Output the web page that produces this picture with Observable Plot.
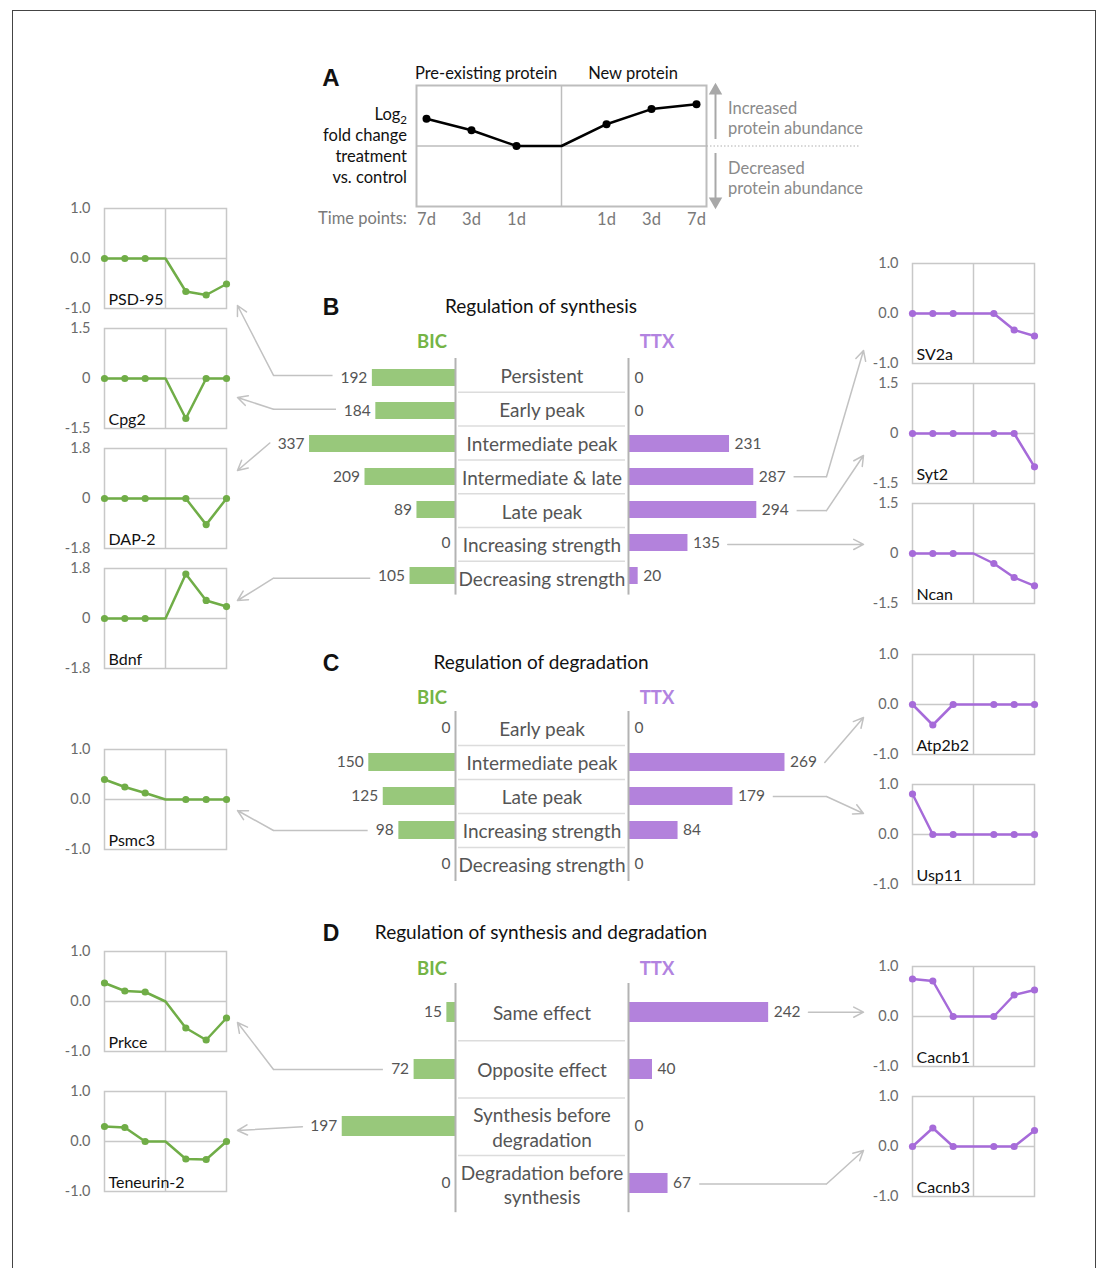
<!DOCTYPE html>
<html><head><meta charset="utf-8">
<script src="https://cdn.jsdelivr.net/npm/d3@7"></script>
<script src="https://cdn.jsdelivr.net/npm/@observablehq/plot@0.6"></script>
<style>
body{margin:0;background:#fff;font-family:Lato,"Open Sans",sans-serif;}
#fig{position:relative;width:1099px;height:1268px;overflow:hidden;background:#fff;}
#fig .abs{position:absolute;}
sub{font-size:0.7em;vertical-align:-0.3em;line-height:0;}
</style></head>
<body><div id="fig"></div>
<script>
// ---------------- DATA ----------------
const timeLabels = ["7d","3d","1d","1d","3d","7d"];
const timeIndex = [0,1,2,4,5,6];            // index 3 = junction pre-existing / new
const schematicValues = [0.45,0.26,0,0,0.36,0.61,0.69];

const geneNames  = ["PSD-95","Cpg2","DAP-2","Bdnf","Psmc3","Prkce","Teneurin-2",
                    "SV2a","Syt2","Ncan","Atp2b2","Usp11","Cacnb1","Cacnb3"];
const geneGroup  = ["BIC","BIC","BIC","BIC","BIC","BIC","BIC",
                    "TTX","TTX","TTX","TTX","TTX","TTX","TTX"];
const geneLimit  = [1.0,1.5,1.8,1.8,1.0,1.0,1.0, 1.0,1.5,1.5,1.0,1.0,1.0,1.0];
const geneValues = [
  [0,0,0,0,-0.66,-0.73,-0.51],
  [0,0,0,0,-1.2,0,0],
  [0,0,0,0,0,-0.94,0],
  [0,0,0,0,1.6,0.65,0.43],
  [0.4,0.25,0.13,0,0,0,0],
  [0.37,0.21,0.19,0,-0.53,-0.77,-0.33],
  [0.3,0.28,0,0,-0.35,-0.36,0],
  [0,0,0,0,0,-0.33,-0.45],
  [0,0,0,0,0,0,-1.0],
  [0,0,0,0,-0.3,-0.72,-0.97],
  [0,-0.41,0,0,0,0,0],
  [0.81,0,0,0,0,0,0],
  [0.75,0.71,0,0,0,0.43,0.53],
  [0,0.37,0,0,0,0,0.32]
];

const synthCategories = ["Persistent","Early peak","Intermediate peak","Intermediate & late","Late peak","Increasing strength","Decreasing strength"];
const synthBIC = [192,184,337,209,89,0,105];
const synthTTX = [0,0,231,287,294,135,20];

const degCategories = ["Early peak","Intermediate peak","Late peak","Increasing strength","Decreasing strength"];
const degBIC = [0,150,125,98,0];
const degTTX = [0,269,179,84,0];

const bothCategories = ["Same effect","Opposite effect","Synthesis before\ndegradation","Degradation before\nsynthesis"];
const bothBIC = [15,72,197,0];
const bothTTX = [242,40,0,67];

// ---------------- STYLE / LAYOUT ----------------
const greenLine = "#70ad47", purpleLine = "#a66bd9";
const greenBar = "#98c87b", purpleBar = "#b382dc";
const greenText = "#74b446", purpleText = "#b283e0";
const gridGray = "#c8c8c8", arrowGray = "#c2c2c2", valueGray = "#555";
const FONT = "Lato, 'Open Sans', sans-serif";
const SMALL = 16.5, VALUE = 15.5, CAT = 19, TITLE = 19;

const fig = document.getElementById("fig");
function place(node, left, top){ node.classList.add("abs"); node.style.position="absolute"; node.style.left=left+"px"; node.style.top=top+"px"; fig.appendChild(node); return node; }
function label(html, x, y, o={}){
  const d=document.createElement("div");
  d.innerHTML=html;
  const tx = o.anchor==="start"?"0":o.anchor==="end"?"-100%":"-50%";
  d.style.cssText=`position:absolute;left:${x}px;top:${y}px;transform:translate(${tx},-50%);font-size:${o.size||SMALL}px;color:${o.color||"#111"};font-weight:${o.weight||"normal"};white-space:nowrap;line-height:1.2;font-family:${o.family||FONT};`;
  fig.appendChild(d);
}

// frame around the figure
const border=document.createElement("div");
border.style.cssText="position:absolute;left:12px;top:10px;width:1084px;height:1300px;border:1px solid #444;box-sizing:border-box;";
fig.appendChild(border);

// ---------------- PANEL A ----------------
const aBox = {left:416, right:706, top:85, bottom:206};
const aStep = 45, aPad = 10;
const aPts = schematicValues.map((v,i)=>({t:i, v}));
const aPlot = Plot.plot({
  width: (aBox.right-aBox.left)+24, height: (aBox.bottom-aBox.top)+40,
  marginLeft:12, marginRight:12, marginTop:10, marginBottom:30,
  style:{background:"none", overflow:"visible", fontFamily:FONT},
  x:{domain:[-aPad/aStep, 6+aPad/aStep], axis:null},
  y:{domain:[-1,1], axis:null},
  marks:[
    Plot.frame({stroke:"#bdbdbd", strokeWidth:2}),
    Plot.ruleX([3],{stroke:"#bdbdbd", strokeWidth:1.5}),
    Plot.ruleY([0],{stroke:"#bdbdbd", strokeWidth:1.5}),
    Plot.axisX({ticks:timeIndex, tickFormat:d=>timeLabels[timeIndex.indexOf(d)], tickSize:0, tickPadding:7, fontSize:SMALL, color:"#7a7a7a", label:null}),
    Plot.line(aPts,{x:"t", y:"v", stroke:"#000", strokeWidth:2.5}),
    Plot.dot(aPts.filter(d=>d.t!==3),{x:"t", y:"v", r:4, fill:"#000"})
  ]
});
place(aPlot, aBox.left-12, aBox.top-10);

label("A", 331, 78, {size:24, weight:"bold", family:"'Liberation Sans', Arial, sans-serif"});
label("Pre-existing protein", 486, 74);
label("New protein", 633, 74);
label("Log<sub>2</sub>", 407, 115, {anchor:"end"});
label("fold change", 407, 136, {anchor:"end"});
label("treatment", 407, 157, {anchor:"end"});
label("vs. control", 407, 178, {anchor:"end"});
label("Time points:", 407, 219, {anchor:"end", color:"#7a7a7a"});
label("Increased", 728, 109, {anchor:"start", color:"#8a8a8a"});
label("protein abundance", 728, 129, {anchor:"start", color:"#8a8a8a"});
label("Decreased", 728, 169, {anchor:"start", color:"#8a8a8a"});
label("protein abundance", 728, 189, {anchor:"start", color:"#8a8a8a"});

// ---------------- MINI CHARTS ----------------
const leftBoxX = 104, rightBoxX = 912, boxW = 122, boxH = 100;
const geneBoxTop = [208,328,448,568,749,951,1091, 263,383,503,654,784,966,1096];
function geneBox(i){ return {x: geneGroup[i]==="BIC"?leftBoxX:rightBoxX, y: geneBoxTop[i]}; }

geneNames.forEach((name,i)=>{
  const lim = geneLimit[i];
  const color = geneGroup[i]==="BIC" ? greenLine : purpleLine;
  const pts = geneValues[i].map((v,j)=>({t:j, v}));
  const fmt = d => d===0 ? (lim===1?"0.0":"0") : d.toFixed(1);
  const p = Plot.plot({
    width: boxW+58, height: boxH+20, marginLeft:50, marginRight:8, marginTop:10, marginBottom:10,
    style:{background:"none", overflow:"visible", fontFamily:FONT},
    x:{domain:[0,6], axis:null},
    y:{domain:[-lim,lim], axis:null},
    marks:[
      Plot.frame({stroke:gridGray, strokeWidth:1.5}),
      Plot.ruleX([3],{stroke:gridGray, strokeWidth:1.5}),
      Plot.ruleY([0],{stroke:gridGray, strokeWidth:1.5}),
      Plot.axisY({ticks:[-lim,0,lim], tickFormat:fmt, tickSize:0, tickPadding:14, fontSize:14.5, color:"#6a6a6a", label:null}),
      Plot.line(pts,{x:"t", y:"v", stroke:color, strokeWidth:2.5}),
      Plot.dot(pts.filter(d=>d.t!==3),{x:"t", y:"v", r:3.6, fill:color}),
      Plot.text([name],{text:d=>d, frameAnchor:"bottom-left", textAnchor:"start", lineAnchor:"bottom", dx:4, dy:-4, fontSize:16, fill:"#111"})
    ]
  });
  const b = geneBox(i);
  place(p, b.x-50, b.y-10);
});

// ---------------- BAR PANELS ----------------
const colLeft = 455, colRight = 628;
const panels = [
  {id:"B", title:"Regulation of synthesis", titleY:306, headerY:341, cats:synthCategories, bic:synthBIC, ttx:synthTTX, top:358, rowH:33.8, k:0.433, pad:0.47},
  {id:"C", title:"Regulation of degradation", titleY:662, headerY:697, cats:degCategories, bic:degBIC, ttx:degTTX, top:711, rowH:34, k:0.578, pad:0.47},
  {id:"D", title:"Regulation of synthesis and degradation", titleY:932, headerY:968, cats:bothCategories, bic:bothBIC, ttx:bothTTX, top:983, rowH:57.3, k:0.575, pad:0.65}
];

panels.forEach(P=>{
  const n = P.cats.length, H = n*P.rowH;
  const bicData = P.cats.map((c,i)=>({c, v:P.bic[i]}));
  const ttxData = P.cats.map((c,i)=>({c, v:P.ttx[i]}));
  const yBand = {domain:P.cats, paddingInner:P.pad, paddingOuter:P.pad/2, axis:null};
  const leftW = 215, rightW = 240;
  const leftPlot = Plot.plot({
    width:leftW, height:H, margin:0,
    style:{background:"none", overflow:"visible", fontFamily:FONT},
    x:{domain:[0, leftW/P.k], reverse:true, axis:null},
    y:yBand,
    marks:[
      Plot.barX(bicData,{x:"v", y:"c", fill:greenBar}),
      Plot.text(bicData,{x:"v", y:"c", text:d=>String(d.v), textAnchor:"end", dx:-5, fontSize:VALUE, fill:valueGray})
    ]
  });
  place(leftPlot, colLeft-leftW, P.top);
  const rightPlot = Plot.plot({
    width:rightW, height:H, margin:0, marginLeft:1,
    style:{background:"none", overflow:"visible", fontFamily:FONT},
    x:{domain:[0, (rightW-1)/P.k], axis:null},
    y:yBand,
    marks:[
      Plot.barX(ttxData,{x:"v", y:"c", fill:purpleBar}),
      Plot.text(ttxData,{x:"v", y:"c", text:d=>String(d.v), textAnchor:"start", dx:5, fontSize:VALUE, fill:valueGray})
    ]
  });
  place(rightPlot, colRight, P.top);
  const catData = P.cats.map((c,i)=>({c, i}));
  const centerPlot = Plot.plot({
    width:(colRight-colLeft)+4, height:H, marginLeft:2, marginRight:2, marginTop:0, marginBottom:0,
    style:{background:"none", overflow:"visible", fontFamily:FONT},
    x:{domain:[0,1], axis:null},
    y:{domain:[0,n], reverse:true, axis:null},
    marks:[
      Plot.ruleY(d3.range(1,n),{y:d=>d, x1:0, x2:1, stroke:"#dcdcdc", strokeWidth:1.5, insetLeft:3, insetRight:3}),
      Plot.ruleX([0,1],{stroke:"#b3b3b3", strokeWidth:2}),
      Plot.text(catData,{x:0.5, y:d=>d.i+0.5, text:"c", fontSize:CAT, fill:"#555", lineHeight:1.3})
    ]
  });
  place(centerPlot, colLeft-2, P.top);
  label(P.id, 331, P.titleY+2, {size:23, weight:"bold", family:"'Liberation Sans', Arial, sans-serif"});
  label(P.title, 541, P.titleY, {size:TITLE});
  label("BIC", 432, P.headerY, {size:18.5, weight:"bold", color:greenText});
  label("TTX", 657, P.headerY, {size:18.5, weight:"bold", color:purpleText});
});

// ---------------- CONNECTOR ARROWS (annotations) ----------------
const arrowLinks = [
  {panel:"B", side:"BIC", row:0, gene:"PSD-95", frac:0.97, elbow:true},
  {panel:"B", side:"BIC", row:1, gene:"Cpg2", frac:0.69, elbow:true},
  {panel:"B", side:"BIC", row:2, gene:"DAP-2", frac:0.22, elbow:false},
  {panel:"B", side:"BIC", row:6, gene:"Bdnf", frac:0.32, elbow:true},
  {panel:"B", side:"TTX", row:3, gene:"SV2a", frac:0.87, elbow:true},
  {panel:"B", side:"TTX", row:4, gene:"Syt2", frac:0.72, elbow:true},
  {panel:"B", side:"TTX", row:5, gene:"Ncan", frac:null, elbow:false},
  {panel:"C", side:"BIC", row:3, gene:"Psmc3", frac:0.61, elbow:true},
  {panel:"C", side:"TTX", row:1, gene:"Atp2b2", frac:0.63, elbow:false},
  {panel:"C", side:"TTX", row:2, gene:"Usp11", frac:0.29, elbow:true},
  {panel:"D", side:"TTX", row:0, gene:"Cacnb1", frac:null, elbow:false},
  {panel:"D", side:"BIC", row:1, gene:"Prkce", frac:0.71, elbow:true},
  {panel:"D", side:"BIC", row:2, gene:"Teneurin-2", frac:0.39, elbow:false},
  {panel:"D", side:"TTX", row:3, gene:"Cacnb3", frac:0.54, elbow:true}
];
const elbowLeft = 273, elbowRight = 826, digitW = 8.6;
const segs = [], heads = [];
arrowLinks.forEach(a=>{
  const P = panels.find(p=>p.id===a.panel);
  const gi = geneNames.indexOf(a.gene);
  const b = geneBox(gi);
  const y = P.top + (a.row+0.5)*P.rowH;
  const v = a.side==="BIC" ? P.bic[a.row] : P.ttx[a.row];
  const w = String(v).length*digitW;
  const tailX = a.side==="BIC" ? colLeft - v*P.k - 5 - w - 9 : colRight + v*P.k + 6 + w + 9;
  const tipX = a.side==="BIC" ? b.x + boxW + 11 : b.x - 49;
  const tipY = a.frac==null ? y : b.y + a.frac*boxH;
  if (a.elbow) {
    const ex = a.side==="BIC" ? elbowLeft : elbowRight;
    segs.push({x1:tailX, y1:y, x2:ex, y2:y});
    heads.push({x1:ex, y1:y, x2:tipX, y2:tipY});
  } else {
    heads.push({x1:tailX, y1:y, x2:tipX, y2:tipY});
  }
});
const aZero = aBox.top + (aBox.bottom-aBox.top)/2;
const aArrowX = aBox.right + 9;
const aArrows = [
  {x:aArrowX, y1:aZero-7, y2:aBox.top+8, tip:aBox.top+5, rot:0},
  {x:aArrowX, y1:aZero+7, y2:aBox.bottom-8, tip:aBox.bottom-5, rot:180}
];
const overlay = Plot.plot({
  width:1099, height:1268, margin:0,
  style:{background:"none", overflow:"visible", pointerEvents:"none"},
  x:{type:"identity", axis:null}, y:{type:"identity", axis:null},
  marks:[
    Plot.link(segs,{x1:"x1", y1:"y1", x2:"x2", y2:"y2", stroke:arrowGray, strokeWidth:1.5}),
    Plot.arrow(heads,{x1:"x1", y1:"y1", x2:"x2", y2:"y2", stroke:arrowGray, strokeWidth:1.5, headLength:11, headAngle:55}),
    Plot.link([{x1:aBox.right, x2:860, y:aZero}],{x1:"x1", x2:"x2", y1:"y", y2:"y", stroke:"#b0b0b0", strokeWidth:1.2, strokeDasharray:"1.5,2"}),
    Plot.link(aArrows,{x1:"x", x2:"x", y1:"y1", y2:"y2", stroke:"#a8a8a8", strokeWidth:2}),
    Plot.dot(aArrows,{x:"x", y:"tip", symbol:"triangle", r:5, rotate:"rot", fill:"#a8a8a8", stroke:"none"})
  ]
});
place(overlay, 0, 0);
</script>
</body></html>
